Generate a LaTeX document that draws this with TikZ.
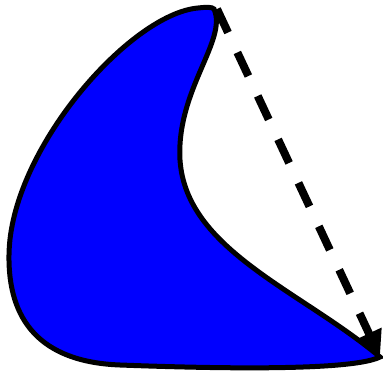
\documentclass[tikz,border=0pt]{standalone}
\usepackage{tikz}
\usetikzlibrary{arrows.meta,calc}
\colorlet{colorBLOB}{blue}
\tikzset{
   every path/.style={>=stealth},
   blob/.style={draw=black,fill=colorBLOB,line width=5pt},
   move/.style={-{Triangle[length=26pt,width=26pt]},draw=black,line width=8pt,dash pattern=on 26pt off 22pt},
}

\begin{document}
\begin{tikzpicture}[x=1pt,y=-1pt]
\useasboundingbox (0,0) rectangle (383,374);
\coordinate (top) at (214,9);
\coordinate (corner) at (380,357);
\path[blob] (top) .. controls (228,40) and (176,90) .. (180,160)
  .. controls (186,250) and (300,290) .. (corner)
  .. controls (350,372) and (200,368) .. (120,365)
  .. controls (40,362) and (8,320) .. (9,255)
  .. controls (10,150) and (130,14) .. (198,8)
  .. controls (207,7) and (212,7) .. (top) -- cycle;
\draw[move] ($(top)+(3,0)$) -- (corner);
\end{tikzpicture}
\end{document}
